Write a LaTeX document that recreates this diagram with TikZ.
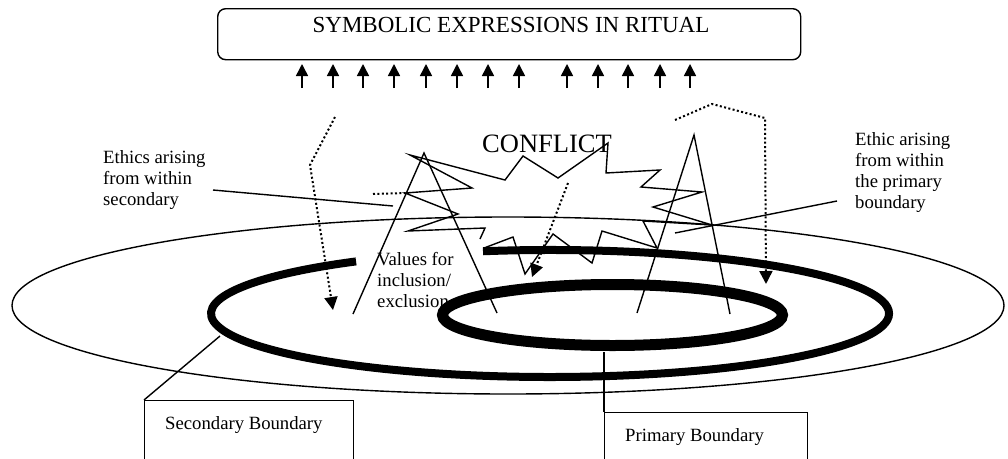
\documentclass[tikz,border=0pt]{standalone}
\usepackage{fontspec}
\setmainfont{Liberation Serif}
\usetikzlibrary{arrows.meta}
\begin{document}
\begin{tikzpicture}[x=1pt,y=-1pt, line join=miter,
  thinline/.style={line width=1.4pt},
  dotline/.style={line width=2pt, dash pattern=on 2pt off 2.4pt},
  uparrow/.style={line width=1.5pt, -{Triangle[length=12pt,width=12pt]}},
  dotarrow/.style={dotline, -{Triangle[length=13pt,width=13pt]}},
  lbl/.style={font=\fontsize{18.7}{21}\selectfont, align=left, inner sep=0pt},
  frame/.style={draw, line width=1.4pt, inner sep=0pt, anchor=north west},
]
\clip (0,0) rectangle (1008,458);
\useasboundingbox (0,0) rectangle (1008,458);

% title
\node[frame, rounded corners=8pt, minimum width=583pt, minimum height=51pt] (titlebox) at (217,8) {};
\node[font=\fontsize{23}{27}\selectfont, anchor=base, inner sep=0pt] (titletext) at (511,32) {SYMBOLIC EXPRESSIONS IN RITUAL};
\foreach \x in {302,333,363,394,426,457,488,519,567,598,628,660,690}
  \draw[uparrow] (\x,88) -- (\x,64);

% texts (base anchor = baseline of last line)
\node[font=\fontsize{26.5}{30}\selectfont, anchor=base west, inner sep=0pt] (conflict) at (482,152) {CONFLICT};
\node[lbl, anchor=base west] (ethsec) at (103,205) {Ethics arising\\from within\\secondary};
\node[lbl, anchor=base west] (ethpri) at (855,208) {Ethic arising\\from within\\the primary\\boundary};
\node[lbl, anchor=base west] (values) at (377,307) {Values for\\inclusion/\\exclusion};

% ellipses
\draw[thinline] (508,305.5) ellipse [x radius=496, y radius=88.5];
\draw[line width=8pt] (483.0,251.25) arc [start angle=258.6, end angle=595.1, x radius=339, y radius=63.5];
\draw[line width=11pt] (612.5,315) ellipse [x radius=170, y radius=30.5];

% peaks
\draw[thinline] (353,314) -- (424,153) -- (497,313);
\draw[thinline] (637,313) -- (694,135) -- (730,314);

% conflict starburst
\draw[thinline] (480,239) -- (485,228) -- (408,231) -- (458,214) -- (405,193) -- (472,188) -- (410,155) -- (505,180) -- (523,156) -- (558,178) -- (608,143) -- (606,173) -- (660,170) -- (641,187) -- (702,192) -- (653,207) -- (712,225) -- (643,221) -- (657,248) -- (602,231) -- (592,263) -- (553,234) -- (525,274) -- (513,237) -- (484,248);
\draw[dotline] (373,194) -- (405,193);

% pointers
\draw[thinline] (213,190) -- (393,206);
\draw[thinline] (837,201) -- (675,233);

% dotted arrows
\draw[dotarrow] (335,117) -- (310,165) -- (333,310);
\draw[dotarrow] (568,183) -- (532,277);
\draw[dotarrow] (675,120) -- (712,104) -- (765,118) -- (766,284);

% boundary boxes
\node[frame, minimum width=209pt, minimum height=70pt] (secbox) at (144,400) {};
\node[lbl, anchor=base west] (sectext) at (165,429) {Secondary Boundary};
\coordinate (secpt) at (220,336);
\draw[thinline] (secbox.north west) -- (secpt);
\node[frame, minimum width=203pt, minimum height=60pt] (pribox) at (604,412) {};
\node[lbl, anchor=base west] (pritext) at (625,441) {Primary Boundary};
\coordinate (pript) at (604,352);
\draw[thinline] (pribox.north west) -- (pript);
\end{tikzpicture}
\end{document}
